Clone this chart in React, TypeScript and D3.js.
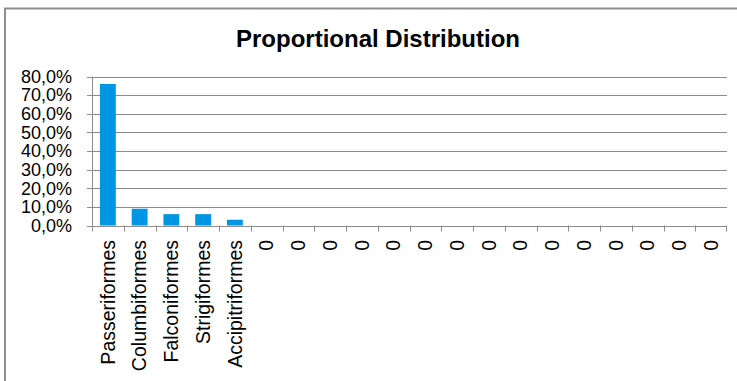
import React from "react";
import * as d3 from "d3";

const categories = [
  "Passeriformes", "Columbiformes", "Falconiformes", "Strigiformes", "Accipitriformes",
  "c6", "c7", "c8", "c9", "c10", "c11", "c12", "c13", "c14", "c15", "c16", "c17", "c18", "c19", "c20",
];
const labels = [
  "Passeriformes", "Columbiformes", "Falconiformes", "Strigiformes", "Accipitriformes",
  "0", "0", "0", "0", "0", "0", "0", "0", "0", "0", "0", "0", "0", "0", "0",
];
const values = [0.76, 0.09, 0.061, 0.061, 0.031, 0, 0, 0, 0, 0, 0, 0, 0, 0, 0, 0, 0, 0, 0, 0];
const yTicks = [0, 0.1, 0.2, 0.3, 0.4, 0.5, 0.6, 0.7, 0.8];
const title = "Proportional Distribution";

const W = 737;
const H = 381;
const left = 92;
const right = 727;
const top = 76.5;
const bottom = 225.5;
const font = "'Liberation Sans', Arial, sans-serif";

export default function App() {
  const x = d3.scaleBand<string>().domain(categories).range([left, right]).paddingInner(0.5).paddingOuter(0.25);
  const xb = d3.scaleBand<string>().domain(categories).range([left, right]);
  const y = d3.scaleLinear().domain([0, 0.8]).range([bottom, top]);
  const fmt = (v: number) => (v * 100).toFixed(1).replace(".", ",") + "%";
  const gridColor = "#8c8c8c";

  return (
    <svg width={W} height={H} style={{ position: "absolute", left: 0, top: 0, background: "#fff" }}>
      <rect x={5} y={8.5} width={800} height={400} fill="#fff" stroke="#8e8e8e" strokeWidth={2} />
      <text x={378} y={47} textAnchor="middle" fontFamily={font} fontWeight="bold" fontSize={24} fill="#000">
        {title}
      </text>
      {yTicks.map((t) => (
        <g key={t}>
          <line x1={87} x2={right} y1={Math.round(y(t)) + 0.5} y2={Math.round(y(t)) + 0.5} stroke={gridColor} strokeWidth={1} />
          <text x={72} y={y(t)} dy="0.35em" textAnchor="end" fontFamily={font} fontSize={18} fill="#000">
            {fmt(t)}
          </text>
        </g>
      ))}
      <line x1={left + 0.5} x2={left + 0.5} y1={top} y2={bottom} stroke={gridColor} strokeWidth={1} />
      {values.map((v, i) => (
        <rect
          key={categories[i]}
          x={x(categories[i])}
          y={y(v)}
          width={x.bandwidth()}
          height={bottom - y(v)}
          fill="#0096E3"
        />
      ))}
      {categories.map((c) => (
        <line key={"t" + c} x1={Math.round(xb(c)!) + 0.5} x2={Math.round(xb(c)!) + 0.5} y1={bottom} y2={bottom + 6} stroke={gridColor} />
      ))}
      <line x1={right - 0.5} x2={right - 0.5} y1={bottom} y2={bottom + 6} stroke={gridColor} />
      {categories.map((c, i) => {
        const cx = xb(c)! + xb.bandwidth() / 2;
        return (
          <text
            key={"l" + c}
            transform={`translate(${cx},240) rotate(-90)`}
            textAnchor="end"
            dy="0.35em"
            fontFamily={font}
            fontSize={19.5}
            fill="#000"
          >
            {labels[i]}
          </text>
        );
      })}
    </svg>
  );
}
